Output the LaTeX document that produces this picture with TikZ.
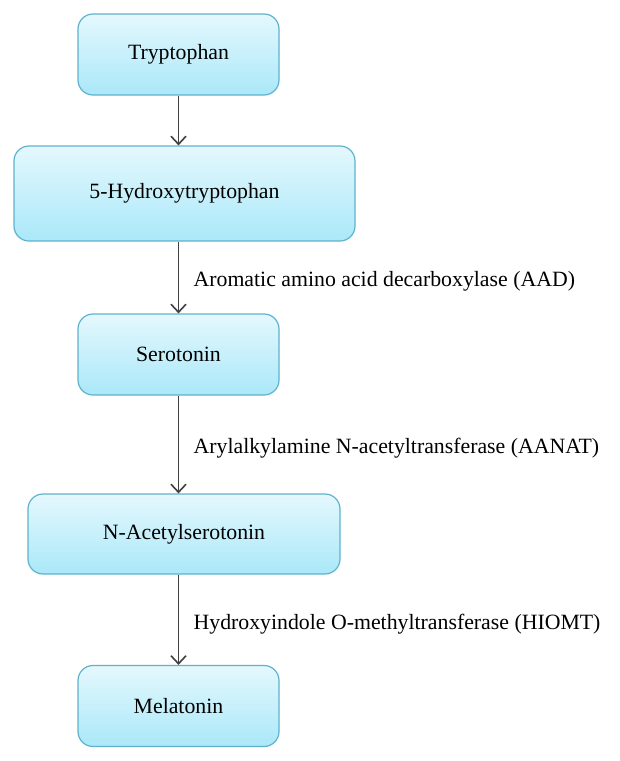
\documentclass[tikz,border=0pt]{standalone}
\usepackage{fontspec}
\setmainfont{Liberation Serif}
\usepackage{tikz}
\usetikzlibrary{arrows.meta}
\definecolor{boxline}{RGB}{96,178,204}
\definecolor{boxtop}{RGB}{228,248,253}
\definecolor{boxbottom}{RGB}{170,232,249}
\definecolor{arrowgray}{RGB}{64,64,64}

\begin{document}
\begin{tikzpicture}[x=1pt, y=1pt, node distance=150pt, >={Straight Barb[length=8pt, width=15pt]}]
    \tikzstyle{stagebox} = [rectangle, rounded corners=15pt, minimum width=201pt, minimum height=81pt, text centered, draw=boxline, line width=1.2pt, top color=boxtop, bottom color=boxbottom, font=\fontsize{21.8}{25}\selectfont]
    \tikzstyle{enzyme} = [right, xshift=11pt, yshift=-4pt, font=\fontsize{21.8}{25}\selectfont]
    \tikzstyle{step arrow} = [->, draw=arrowgray, line width=1.6pt]
    \useasboundingbox (0,0) rectangle (620,-761);

    % Pathway
    \node [stagebox] (trp) at (178.5,-54.5) {Tryptophan};
    \node [stagebox, minimum width=341pt, minimum height=95pt, below of=trp, xshift=6pt, yshift=11pt] (hydroxy) {5-Hydroxytryptophan};
    \node [stagebox, below of=hydroxy, xshift=-6pt, yshift=-11pt] (serotonin) {Serotonin};
    \node [stagebox, minimum width=312pt, minimum height=80pt, below of=serotonin, xshift=5.5pt, yshift=-29.5pt] (acetyl) {N-Acetylserotonin};
    \node [stagebox, below of=acetyl, xshift=-5.5pt, yshift=-22pt] (melatonin) {Melatonin};

    % Arrows
    \draw [step arrow] (trp.south) -- (trp.south |- hydroxy.north);
    \draw [step arrow] (serotonin.north |- hydroxy.south) -- node[enzyme] {Aromatic amino acid decarboxylase (AAD)} (serotonin.north);
    \draw [step arrow] (serotonin.south) -- node[enzyme] {Arylalkylamine N-acetyltransferase (AANAT)} (serotonin.south |- acetyl.north);
    \draw [step arrow] (melatonin.north |- acetyl.south) -- node[enzyme] {Hydroxyindole O-methyltransferase (HIOMT)} (melatonin.north);
\end{tikzpicture}
\end{document}
